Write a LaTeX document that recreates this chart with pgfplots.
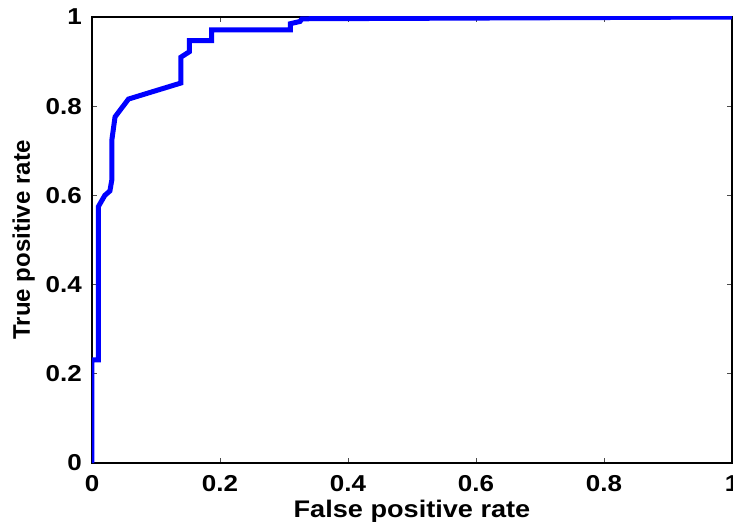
\documentclass[border=0pt]{standalone}
\usepackage{fontspec}
\setmainfont{Liberation Sans}[FakeStretch=1.13]
\newfontfamily\ylabfont{Liberation Sans}
\usepackage{pgfplots}
\pgfplotsset{compat=1.18}
\begin{document}
\begin{tikzpicture}
\begin{axis}[
  scale only axis,
  width=640pt, height=446pt,
  xmin=0, xmax=1, ymin=0, ymax=1,
  xtick={0,0.2,0.4,0.6,0.8,1},
  ytick={0,0.2,0.4,0.6,0.8,1},
  /pgf/number format/assume math mode=true,
  tick align=inside,
  major tick length=5pt,
  tick style={black!70, line width=0.6pt},
  axis line style={black, line width=1.1pt},
  ticklabel style={font=\fontsize{23}{23}\selectfont\bfseries, inner sep=0pt},
  xticklabel style={yshift=-12pt},
  yticklabel style={xshift=-10pt},
  xlabel={False positive rate},
  ylabel={\ylabfont True positive rate},
  label style={font=\fontsize{24}{24}\selectfont\bfseries, inner sep=0pt},
  xlabel style={at={(axis description cs:0.5,-0.1211)}, anchor=base},
  ylabel style={at={(axis description cs:-0.0969,0.5)}, anchor=base, rotate=0},
]
\addplot[color={rgb,255:red,0;green,0;blue,255}, line width=5pt, line join=miter] coordinates {
(0,0)
(0,0.231)
(0.010,0.231)
(0.010,0.575)
(0.020,0.600)
(0.028,0.610)
(0.031,0.635)
(0.031,0.724)
(0.036,0.776)
(0.057,0.816)
(0.139,0.852)
(0.139,0.910)
(0.152,0.922)
(0.152,0.947)
(0.187,0.947)
(0.187,0.971)
(0.310,0.971)
(0.310,0.985)
(0.325,0.990)
(0.328,0.996)
(1,1)
};
\end{axis}
\pgfresetboundingbox
\useasboundingbox ([xshift=-92pt,yshift=-61pt]current axis.south west) rectangle ([xshift=1pt,yshift=17pt]current axis.north east);
\end{tikzpicture}
\end{document}
